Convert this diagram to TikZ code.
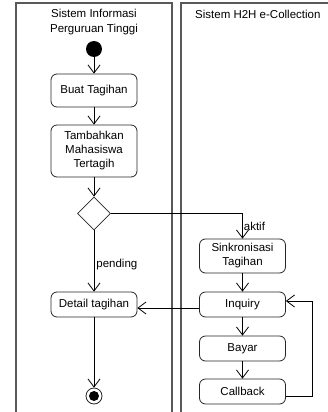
\documentclass[tikz,border=0pt]{standalone}
\usepackage{fontspec}
\setmainfont{Liberation Sans}
\usetikzlibrary{arrows.meta,shapes.geometric}
\begin{document}
\begin{tikzpicture}[x=1pt,y=-1pt,
  lane/.style={draw=black!65,line width=1.2pt},
  act/.style={draw=black!85,rounded corners=6pt,line width=0.8pt,minimum width=86pt,align=center,font=\fontsize{11.5}{14}\selectfont,inner sep=1pt},
  flow/.style={draw=black,line width=0.8pt,-{Straight Barb[length=8pt,width=12pt,line width=0.8pt]}},
  lbl/.style={font=\fontsize{11.5}{15.5}\selectfont,inner sep=1pt}]
\useasboundingbox (0,0) rectangle (328,412);
% lanes
\draw[lane] (16,412) -- (16,3) -- (172,3) -- (172,412);
\draw[lane] (181,412) -- (181,3) -- (330,3);
\node[lbl,align=center] (t1) at (94,22) {Sistem Informasi\\Perguruan Tinggi};
\node[lbl,anchor=west] (t2) at (194,14.5) {Sistem H2H e-Collection};
% nodes
\node[circle,fill=black,minimum size=16pt,inner sep=0pt] (start) at (94,49) {};
\node[act,minimum height=33pt] (buat) at (94,90.5) {Buat Tagihan};
\node[act,minimum height=52pt] (tambah) at (94,151) {Tambahkan\\Mahasiswa\\Tertagih};
\node[diamond,draw=black!85,line width=0.8pt,minimum width=33pt,minimum height=33pt,inner sep=0pt] (dec) at (94,213.5) {};
\node[act,minimum height=34pt] (sink) at (242.5,256) {Sinkronisasi\\Tagihan};
\node[act,minimum height=25pt] (detail) at (94,304.5) {Detail tagihan};
\node[act,minimum height=25pt] (inq) at (242.5,304.5) {Inquiry};
\node[act,minimum height=25pt] (bayar) at (242.5,348.5) {Bayar};
\node[act,minimum height=25pt] (cb) at (242.5,391.5) {Callback};
\node[circle,draw=black!85,line width=0.8pt,minimum size=16pt,inner sep=0pt] (end) at (94,396) {};
\node[circle,fill=black,minimum size=10pt,inner sep=0pt] (endin) at (end) {};
\coordinate (c1) at (sink.north |- dec.east);
\coordinate (c2) at (312,396);
\coordinate (c3) at (312,301);
% flows
\draw[flow] (start) -- (buat);
\draw[flow] (buat) -- (tambah);
\draw[flow] (tambah) -- (dec);
\draw[flow] (dec.east) -- (c1) -- (sink.north) node[lbl,pos=0.5,anchor=west] {aktif};
\draw[flow] (dec.south) -- node[lbl,anchor=west,pos=0.55,xshift=1pt] {pending} (detail.north);
\draw[flow] (sink) -- (inq);
\draw[flow] ([yshift=-3.5pt]inq.west) -- ([yshift=-3.5pt]detail.east);
\draw[flow] (inq) -- (bayar);
\draw[flow] (bayar) -- (cb);
\draw[flow] (detail) -- (end);
\draw[flow] (cb.east |- c2) -- (c2) -- (c3) -- (inq.east |- c3);
\end{tikzpicture}
\end{document}
